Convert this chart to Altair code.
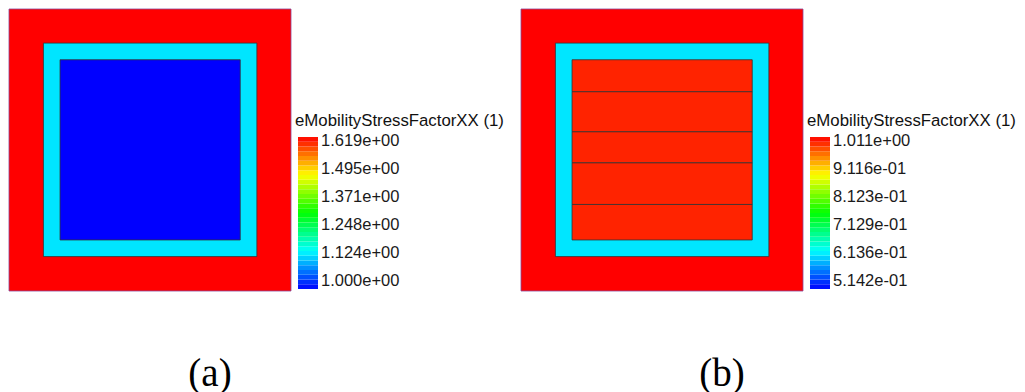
import altair as alt
import pandas as pd

# ---------------- data ----------------
# cross-section geometry in normalised cell coordinates (0-100)
region_names = ["outer", "liner", "core"]
region_x0 = [0.0, 12.2, 18.1]
region_x1 = [100.0, 87.9, 82.0]
region_y0 = [0.0, 12.2, 18.1]
region_y1 = [100.0, 87.9, 82.0]
region_edges = ["#8a4a9a", "#333333", "#333333"]

# panel (b): the core is made of five stacked layers
layer_y0 = [18.1, 30.7, 45.5, 56.5, 70.7]
layer_y1 = [30.7, 45.5, 56.5, 70.7, 82.0]

# field values (eMobilityStressFactorXX)
values_a = [1.619, 1.139, 1.000]          # outer, liner, core
values_b = [1.011, 0.626]                 # outer, liner
layer_values_b = [0.994, 0.994, 0.994, 0.994, 0.994]

range_a = [1.000, 1.619]
range_b = [0.5142, 1.011]
ticks_a = [1.619, 1.495, 1.371, 1.248, 1.124, 1.000]
labels_a = ["1.619e+00", "1.495e+00", "1.371e+00", "1.248e+00", "1.124e+00", "1.000e+00"]
ticks_b = [1.011, 0.9116, 0.8123, 0.7129, 0.6136, 0.5142]
labels_b = ["1.011e+00", "9.116e-01", "8.123e-01", "7.129e-01", "6.136e-01", "5.142e-01"]
bar_title = "eMobilityStressFactorXX (1)"
captions = ["(a)", "(b)"]

JET = ["#0000ff", "#00ffff", "#00ff00", "#ffff00", "#ff0000"]
N_BANDS = 32
GEOM = 282
BAR_W = 20


def color_scale(vmin, vmax):
    d = vmax - vmin
    return alt.Scale(domain=[vmin, vmin + 0.25 * d, vmin + 0.5 * d, vmin + 0.75 * d, vmax],
                     range=JET, interpolate="rgb")


def geom_chart(df, vmin, vmax, caption):
    rects = alt.Chart(df).mark_rect(strokeWidth=1, strokeOpacity=0.8).encode(
        x=alt.X("x0:Q", scale=alt.Scale(domain=[0, 100], nice=False, zero=False), axis=None),
        x2="x1:Q",
        y=alt.Y("y0:Q", scale=alt.Scale(domain=[0, 100], nice=False, zero=False), axis=None),
        y2="y1:Q",
        color=alt.Color("v:Q", scale=color_scale(vmin, vmax), legend=None),
        stroke=alt.Stroke("edge:N", scale=None),
        order=alt.Order("k:Q"),
    )
    cap = alt.Chart(pd.DataFrame({"c": [caption]})).mark_text(
        font="Liberation Serif", fontSize=39, align="center", baseline="alphabetic", color="#000000"
    ).encode(x=alt.value(201), y=alt.value(377), text="c:N")
    return alt.layer(rects, cap).properties(width=GEOM, height=GEOM)


def cbar_chart(vmin, vmax, ticks, labels, width):
    d = vmax - vmin
    bands = alt.Chart(alt.sequence(0, N_BANDS, as_="i")).transform_calculate(
        v0=f"{vmin} + datum.i * {d} / {N_BANDS}",
        v1=f"{vmin} + (datum.i + 1) * {d} / {N_BANDS}",
        vc=f"{vmin} + (datum.i + 0.5) * {d} / {N_BANDS}",
    ).mark_rect().encode(
        x=alt.value(0), x2=alt.value(BAR_W),
        y=alt.Y("v0:Q", scale=alt.Scale(domain=[vmin, vmax], range=[280, 128], nice=False, zero=False), axis=None),
        y2="v1:Q",
        color=alt.Color("vc:Q", scale=color_scale(vmin, vmax), legend=None),
    )
    lab = alt.Chart(pd.DataFrame({"t": ticks, "l": labels})).mark_text(
        align="left", baseline="middle", font="Liberation Sans", fontSize=16.5, color="#1a1a1a"
    ).encode(
        x=alt.value(BAR_W + 3),
        y=alt.Y("t:Q", scale=alt.Scale(domain=[vmin, vmax], range=[272, 132], nice=False, zero=False), axis=None),
        text="l:N",
    )
    ttl = alt.Chart(pd.DataFrame({"s": [bar_title]})).mark_text(
        align="left", baseline="alphabetic", font="Liberation Sans", fontSize=16.8, color="#111111"
    ).encode(x=alt.value(-3), y=alt.value(117), text="s:N")
    return alt.layer(bands, lab, ttl).resolve_scale(y="independent").properties(width=width, height=GEOM)


# build region tables
df_a = pd.DataFrame({
    "name": region_names, "x0": region_x0, "x1": region_x1,
    "y0": region_y0, "y1": region_y1, "v": values_a, "edge": region_edges,
    "k": list(range(len(region_names))),
})
rows_b = []
for i in range(2):
    rows_b.append({"name": region_names[i], "x0": region_x0[i], "x1": region_x1[i],
                   "y0": region_y0[i], "y1": region_y1[i], "v": values_b[i],
                   "edge": region_edges[i], "k": i})
for j in range(len(layer_y0)):
    rows_b.append({"name": f"core{j + 1}", "x0": region_x0[2], "x1": region_x1[2],
                   "y0": layer_y0[j], "y1": layer_y1[j], "v": layer_values_b[j],
                   "edge": region_edges[2], "k": 2 + j})
df_b = pd.DataFrame(rows_b)

chart = alt.hconcat(
    geom_chart(df_a, range_a[0], range_a[1], captions[0]),
    cbar_chart(range_a[0], range_a[1], ticks_a, labels_a, 216),
    geom_chart(df_b, range_b[0], range_b[1], captions[1]),
    cbar_chart(range_b[0], range_b[1], ticks_b, labels_b, 200),
    spacing=7, bounds="flush",
).resolve_scale(
    color="independent"
).properties(padding=0, background="white").configure_view(stroke=None)

chart.save("out.html", embed_options={"renderer": "svg", "actions": False})
